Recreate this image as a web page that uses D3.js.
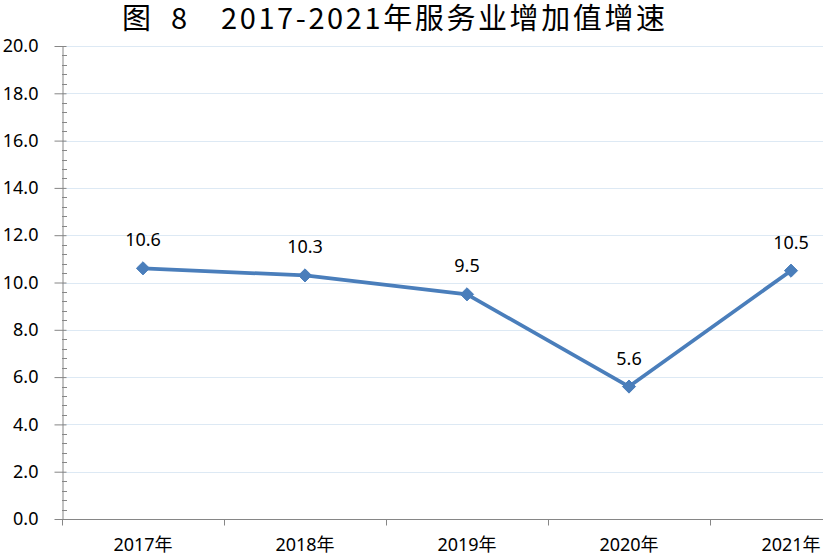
<!DOCTYPE html>
<html lang="zh">
<head>
<meta charset="UTF-8">
<title>服务业增加值增速</title>
<script src="https://d3js.org/d3.v7.min.js"></script>
<style>
  body { margin: 0; background: #fff; }
  svg { display: block; }
</style>
</head>
<body>
<svg width="823" height="554"></svg>
<script>
// data
var years = ["2017年", "2018年", "2019年", "2020年", "2021年"];
var growth = [10.6, 10.3, 9.5, 5.6, 10.5];
var yTicks = [0, 2, 4, 6, 8, 10, 12, 14, 16, 18, 20];

var svg = d3.select("svg");
var font = "'Noto Sans', 'Noto Sans CJK SC', sans-serif";
var cjk = "'Noto Sans CJK SC', sans-serif";

// plot area (right side runs past the picture edge, as in the original)
var pLeft = 62, pTop = 46, pBottom = 519, pRight = 872;

var x = d3.scaleBand().domain(years).range([pLeft, pRight]);
var y = d3.scaleLinear().domain([0, 20]).range([pBottom, pTop]);

// title, in three pieces to keep the wide gaps
var title = svg.append("g")
  .style("font-family", cjk)
  .style("font-size", "29px")
  .attr("fill", "#000");
title.append("text").attr("x", 122).attr("y", 29).text("图");
title.append("text").attr("x", 171).attr("y", 29).text("8");
title.append("text").attr("x", 221).attr("y", 29)
  .attr("textLength", 444)
  .attr("lengthAdjust", "spacing")
  .text("2017-2021年服务业增加值增速");

// grid lines
svg.append("g")
  .selectAll("line")
  .data(yTicks.filter(function(d) { return d > 0; }))
  .enter()
  .append("line")
  .attr("x1", pLeft)
  .attr("x2", pRight)
  .attr("y1", function(d) { return Math.round(y(d)) + 0.5; })
  .attr("y2", function(d) { return Math.round(y(d)) + 0.5; })
  .attr("stroke", "#dde9f4")
  .attr("stroke-width", 1);

// minor ticks on y axis
var minor = d3.range(0, 20, 0.4).filter(function(v) {
  return Math.abs(v / 2 - Math.round(v / 2)) > 0.01;
});
svg.append("g")
  .selectAll("line")
  .data(minor)
  .enter()
  .append("line")
  .attr("x1", pLeft)
  .attr("x2", pLeft + 5)
  .attr("y1", function(d) { return Math.round(y(d)) + 0.5; })
  .attr("y2", function(d) { return Math.round(y(d)) + 0.5; })
  .attr("stroke", "#868686");

// y axis
var yAxis = svg.append("g")
  .attr("transform", "translate(" + (pLeft + 0.5) + ",0)")
  .call(d3.axisLeft(y).tickValues(yTicks).tickFormat(d3.format(".1f")).tickSizeInner(8).tickSizeOuter(0).tickPadding(16));
yAxis.select(".domain").attr("stroke", "#868686");
yAxis.selectAll(".tick line").attr("stroke", "#868686").attr("x2", -8).attr("x1", 4);
yAxis.selectAll(".tick text")
  .style("font-family", font)
  .style("font-size", "18px")
  .attr("fill", "#000");

// x axis, ticks between categories
var xAxisG = svg.append("g")
  .attr("transform", "translate(0," + (pBottom + 0.5) + ")");
xAxisG.append("line")
  .attr("x1", pLeft).attr("x2", pRight)
  .attr("stroke", "#868686");
xAxisG.selectAll(".bt")
  .data(years)
  .enter()
  .append("line")
  .attr("class", "bt")
  .attr("x1", function(d) { return Math.round(x(d)) + 0.5; })
  .attr("x2", function(d) { return Math.round(x(d)) + 0.5; })
  .attr("y1", 0).attr("y2", 6)
  .attr("stroke", "#868686");
xAxisG.selectAll(".lbl")
  .data(years)
  .enter()
  .append("text")
  .attr("x", function(d) { return x(d) + x.bandwidth() / 2; })
  .attr("y", 31)
  .attr("text-anchor", "middle")
  .style("font-family", font)
  .style("font-size", "18px")
  .attr("fill", "#000")
  .text(function(d) { return d; });

// line
var pts = years.map(function(d, i) { return { year: d, value: growth[i] }; });
var line = d3.line()
  .x(function(d) { return x(d.year) + x.bandwidth() / 2; })
  .y(function(d) { return y(d.value); });

svg.append("path")
  .datum(pts)
  .attr("d", line)
  .attr("fill", "none")
  .attr("stroke", "#4a7ebb")
  .attr("stroke-width", 3.75)
  .attr("stroke-linejoin", "round");

// diamond markers
svg.selectAll(".mk")
  .data(pts)
  .enter()
  .append("path")
  .attr("class", "mk")
  .attr("d", d3.symbol().type(d3.symbolDiamond2).size(110))
  .attr("transform", function(d) {
    return "translate(" + (x(d.year) + x.bandwidth() / 2) + "," + y(d.value) + ")";
  })
  .attr("fill", "#4a7ebb")
  .attr("stroke", "#4a7ebb")
  .attr("stroke-width", 1);

// value labels
svg.selectAll(".val")
  .data(pts)
  .enter()
  .append("text")
  .attr("class", "val")
  .attr("x", function(d) { return x(d.year) + x.bandwidth() / 2; })
  .attr("y", function(d) { return y(d.value) - 22; })
  .attr("text-anchor", "middle")
  .style("font-family", font)
  .style("font-size", "18px")
  .attr("fill", "#000")
  .text(function(d) { return d.value.toFixed(1); });
</script>
</body>
</html>
